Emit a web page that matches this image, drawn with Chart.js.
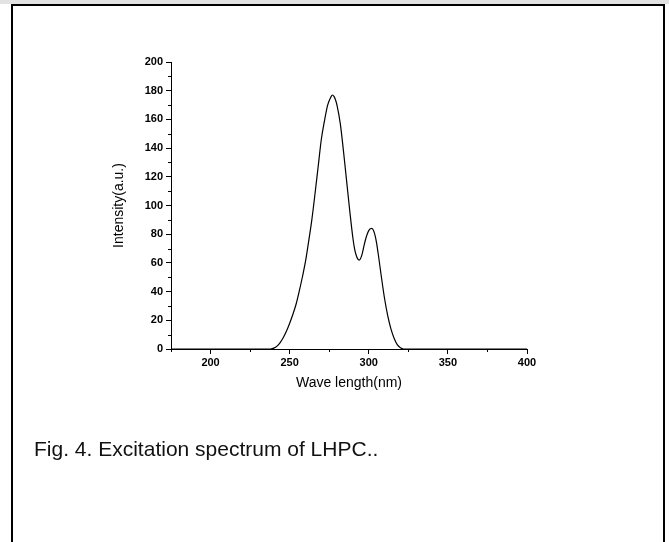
<!DOCTYPE html>
<html>
<head>
<meta charset="utf-8">
<title>Excitation spectrum of LHPC</title>
<script src="https://cdn.jsdelivr.net/npm/chart.js@4.4.1/dist/chart.umd.min.js"></script>
<style>
  html, body { margin: 0; padding: 0; background: #fff; overflow: hidden; }
  body { width: 669px; height: 542px; position: relative; font-family: "Liberation Sans", Arial, sans-serif; }
  #topband { position: absolute; left: 0; top: 0; width: 669px; height: 4px; background: #e2e2e2; }
  #frame { position: absolute; left: 11px; top: 4px; width: 650px; height: 600px;
           border: 2px solid #000; border-bottom: none; }
  #chart { position: absolute; left: 0; top: 0; }
  #caption { position: absolute; left: 34px; top: 438px; font-size: 21px; line-height: 21px;
             color: #111; white-space: nowrap; }
</style>
</head>
<body>
<div id="topband"></div>
<div id="frame"></div>
<canvas id="chart" width="669" height="542"></canvas>
<div id="caption">Fig. 4. Excitation spectrum of LHPC..</div>

<script>
// wavelength (nm) and intensity (a.u.)
const wavelengths = [175, 200, 225, 238, 240, 242, 244, 246, 248, 250, 252, 254, 256, 258, 260,
  262, 264, 266, 268, 270, 272, 274, 276, 277, 278, 279, 280, 282, 284, 286, 288, 290,
  291, 292, 293, 294, 295, 296, 297, 298, 299, 300, 301, 302, 303, 304, 305, 306,
  308, 310, 312, 314, 316, 318, 320, 322, 350, 400];
const intensities = [0, 0, 0, 0, 0.6, 2, 4.5, 8, 12.5, 18, 24, 31, 40, 50, 61,
  75, 90, 108, 127, 146, 159, 170, 175.5, 177, 176, 173.5, 169.5, 157, 138, 117, 96, 77,
  70, 65.5, 62.8, 62, 63.5, 67, 72, 76.5, 80, 82.5, 83.8, 84, 82.5, 79, 73.5, 66,
  50, 35, 23, 14, 7.5, 3, 0.8, 0, 0, 0];

const xTicks = [200, 250, 300, 350, 400];   // labelled x ticks
const yTicks = [0, 20, 40, 60, 80, 100, 120, 140, 160, 180, 200];

const points = wavelengths.map((w, i) => ({ x: w, y: intensities[i] }));

// short ticks for the unlabelled steps
const minorTicks = {
  id: 'minorTicks',
  afterDraw(chart) {
    const ctx = chart.ctx;
    const area = chart.chartArea;
    ctx.save();
    ctx.strokeStyle = '#000';
    ctx.lineWidth = 1;
    ctx.beginPath();
    chart.scales.x.ticks.forEach(t => {
      if (xTicks.includes(t.value)) return;
      const px = Math.round(chart.scales.x.getPixelForValue(t.value)) + 0.5;
      ctx.moveTo(px, area.bottom);
      ctx.lineTo(px, area.bottom + 3);
    });
    chart.scales.y.ticks.forEach(t => {
      if (yTicks.includes(t.value)) return;
      const py = Math.round(chart.scales.y.getPixelForValue(t.value)) + 0.5;
      ctx.moveTo(area.left, py);
      ctx.lineTo(area.left - 3, py);
    });
    ctx.stroke();
    ctx.restore();
  }
};

const tickFont = { family: '"Liberation Sans", Arial, sans-serif', size: 11, weight: 'bold' };
const titleFont = { family: '"Liberation Sans", Arial, sans-serif', size: 14 };

new Chart(document.getElementById('chart').getContext('2d'), {
  type: 'line',
  data: {
    datasets: [{
      data: points,
      borderColor: '#000',
      borderWidth: 1.2,
      pointRadius: 0,
      fill: false,
      cubicInterpolationMode: 'monotone'
    }]
  },
  options: {
    responsive: false,
    devicePixelRatio: 1,
    animation: false,
    layout: { padding: { left: 107, right: 142, top: 62, bottom: 146 } },
    plugins: { legend: { display: false }, tooltip: { enabled: false } },
    scales: {
      x: {
        type: 'linear',
        min: 175,
        max: 400,
        afterFit: s => { s.height = 47; },
        border: { display: true, color: '#000', width: 1 },
        grid: {
          drawOnChartArea: false,
          tickLength: 5,
          tickColor: c => (c.tick && xTicks.includes(c.tick.value)) ? '#000' : 'rgba(0,0,0,0)'
        },
        ticks: {
          stepSize: 25,
          padding: 2,
          color: '#000',
          font: tickFont,
          maxRotation: 0,
          autoSkip: false,
          callback: v => xTicks.includes(v) ? String(v) : ''
        },
        title: { display: true, text: 'Wave length(nm)', color: '#000', font: titleFont, padding: 4 }
      },
      y: {
        min: 0,
        max: 200,
        afterFit: s => { s.width = 64; },
        border: { display: true, color: '#000', width: 1 },
        grid: {
          drawOnChartArea: false,
          tickLength: 5,
          tickColor: c => (c.tick && yTicks.includes(c.tick.value)) ? '#000' : 'rgba(0,0,0,0)'
        },
        ticks: {
          stepSize: 10,
          padding: 3,
          color: '#000',
          font: tickFont,
          autoSkip: false,
          callback: v => yTicks.includes(v) ? String(v) : ''
        },
        title: { display: true, text: 'Intensity(a.u.)', color: '#000', font: titleFont, padding: 4 }
      }
    }
  },
  plugins: [minorTicks]
});
</script>
</body>
</html>
